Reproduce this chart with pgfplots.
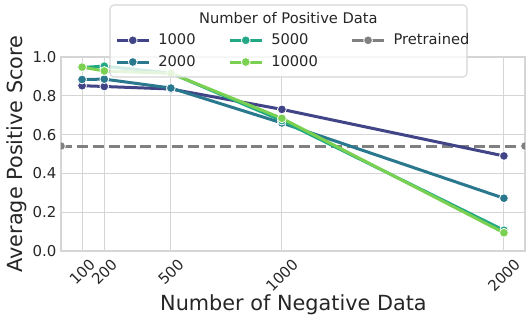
\documentclass[border=0pt]{standalone}
\usepackage{fontspec}
\setmainfont{DejaVu Sans}
\usepackage{pgfplots}
\pgfplotsset{compat=1.18}

\definecolor{vA}{HTML}{414487}
\definecolor{vB}{HTML}{2A788E}
\definecolor{vC}{HTML}{22A884}
\definecolor{vD}{HTML}{7AD151}
\definecolor{gridc}{HTML}{D5D5D5}
\definecolor{txt}{HTML}{262626}

\pgfplotsset{
  ser/.style={line width=2.25pt, mark=*, mark size=3.3pt,
    mark options={solid, draw=white, line width=0.6pt, fill=#1}, color=#1},
}

\begin{document}
\begin{tikzpicture}
\path[use as bounding box] (0,0) rectangle (399pt,244.5pt);
\begin{axis}[
  at={(45.75pt,56.25pt)}, anchor=south west,
  scale only axis, width=348pt, height=145.5pt,
  clip mode=individual,
  xmin=5, xmax=2095, ymin=0, ymax=1,
  xtick={100,200,500,1000,2000},
  xticklabels={\rotatebox{45}{100},\rotatebox{45}{200},\rotatebox{45}{500},\rotatebox{45}{1000},\rotatebox{45}{2000}},
  ytick={0,0.2,0.4,0.6,0.8,1.0},
  yticklabels={0.0,0.2,0.4,0.6,0.8,1.0},
  xticklabel style={anchor=north, font=\fontsize{11.2}{13}\selectfont, text=txt, inner sep=1pt, yshift=-4pt},
  yticklabel style={font=\fontsize{11.2}{13}\selectfont, text=txt},
  major tick length=0pt,
  grid=major, grid style={gridc, line width=0.8pt},
  axis line style={gridc, line width=0.9pt},
  xlabel={Number of Negative Data}, ylabel={Average Positive Score},
  xlabel style={at={(axis description cs:0.501,-0.278)}, anchor=center, font=\fontsize{15.6}{18}\selectfont, text=txt},
  ylabel style={at={(axis description cs:-0.095,0.5)}, anchor=center, font=\fontsize{15.6}{18}\selectfont, text=txt},
  clip marker paths=true,
  legend columns=2, transpose legend,
  legend cell align=left,
  legend image code/.code={\draw[mark repeat=2, mark phase=2] plot coordinates {(0pt,0pt)(12pt,0pt)(24pt,0pt)};},
  legend style={at={(0.1164,1.135)}, anchor=north west, draw=none, fill=none, inner sep=0pt,
    font=\fontsize{11}{13}\selectfont, text=txt, row sep=2.5pt,
    /tikz/every odd column/.append style={column sep=4pt},
    /tikz/every even column/.append style={column sep=22.5pt}},
]
\addplot[gray, line width=2.25pt, dash pattern=on 8.3pt off 3.6pt, mark=*, mark size=3.3pt, mark options={solid, fill=gray, draw=white, line width=0.6pt}, forget plot]
  coordinates {(5,0.541)(2095,0.541)};
\addplot[ser=vA] coordinates {(100,0.852)(200,0.848)(500,0.835)(1000,0.730)(2000,0.490)};
\addlegendentry{1000}
\addplot[ser=vB] coordinates {(100,0.884)(200,0.886)(500,0.840)(1000,0.660)(2000,0.272)};
\addlegendentry{2000}
\addplot[ser=vC] coordinates {(100,0.946)(200,0.953)(500,0.917)(1000,0.672)(2000,0.107)};
\addlegendentry{5000}
\addplot[ser=vD] coordinates {(100,0.948)(200,0.928)(500,0.916)(1000,0.684)(2000,0.094)};
\addlegendentry{10000}
\addlegendimage{gray, line width=2.25pt, mark=*, mark size=3.3pt, mark options={solid, fill=gray, draw=white, line width=0.6pt}}
\addlegendentry{Pretrained}
\draw[gridc, line width=0.8pt, fill=white, fill opacity=0.8, rounded corners=3pt]
  (rel axis cs:0.1056,0.897) rectangle (rel axis cs:0.875,1.268);
\node[text=txt, font=\fontsize{11}{13}\selectfont] at (rel axis cs:0.490,1.201) {Number of Positive Data};
\end{axis}
\end{tikzpicture}
\end{document}
